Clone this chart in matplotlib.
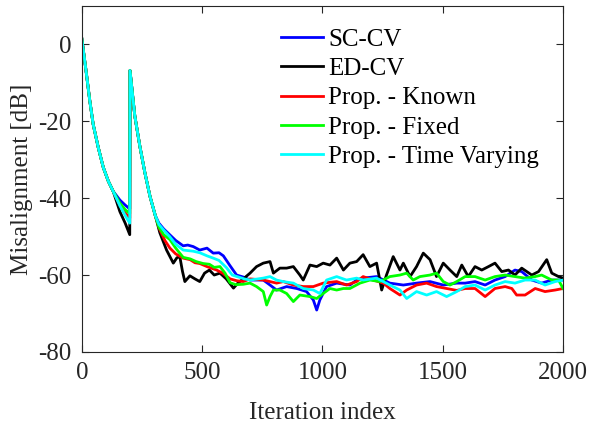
"""Misalignment vs iteration plot (MATLAB look)."""
import matplotlib
matplotlib.use("Agg")
import matplotlib.pyplot as plt

plt.rcParams["font.family"] = ["Liberation Serif", "DejaVu Serif"]
plt.rcParams["axes.unicode_minus"] = False
plt.rcParams["mathtext.fontset"] = "stix"

FONT_SIZE = 18

# shared start of every curve (first transient)
it_head = [0, 19, 33, 47, 68, 89, 110, 130]
db_head = [1.4, -7.7, -14.7, -20.8, -26.8, -32.0, -35.6, -38.2]
# restart at iteration 200
it_spike = [200, 220, 241, 262, 283, 305]
db_spike = [-6.8, -18.6, -26.5, -33.4, -39.5, -44.5]

# SC-CV
it_sc = [158, 180, 199, 320, 340, 365, 390, 421, 440, 463, 490, 520, 546, 570, 588, 615, 643, 670, 699,
         754, 782, 809, 851, 893, 934, 962, 976, 989, 1017, 1059, 1114, 1142, 1169, 1225, 1280, 1336,
         1391, 1447, 1502, 1558, 1593, 1634, 1676, 1717, 1759, 1800, 1828, 1870, 1911, 1953, 1981, 2000]
db_sc = [-40.5, -41.8, -42.8, -46.5, -48.0, -49.5, -51.0, -52.4, -52.2, -52.6, -53.5, -53.0, -54.3, -54.2,
         -55.0, -57.5, -60.0, -60.5, -61.3, -61.3, -62.6, -63.9, -63.0, -63.5, -64.3, -66.5, -69.1, -66.5,
         -63.0, -62.1, -62.6, -61.3, -60.8, -60.4, -62.1, -62.6, -62.1, -61.7, -62.6, -62.1, -62.1, -61.7,
         -62.6, -61.3, -60.4, -58.7, -59.1, -61.3, -62.1, -61.3, -61.3, -61.3]

# ED-CV
it_ed = [158, 180, 199, 324, 352, 380, 395, 407, 418, 428, 449, 470, 490, 510, 530, 550, 574, 600, 630,
         650, 671, 699, 726, 754, 782, 796, 823, 851, 879, 906, 920, 948, 976, 1003, 1031, 1059, 1087,
         1114, 1142, 1169, 1197, 1225, 1246, 1266, 1294, 1322, 1336, 1364, 1391, 1419, 1447, 1474, 1502,
         1530, 1558, 1579, 1606, 1634, 1662, 1690, 1717, 1745, 1773, 1800, 1828, 1870, 1898, 1932, 1953,
         1981, 2000]
db_ed = [-43.5, -46.5, -49.5, -49.0, -53.5, -56.9, -55.5, -55.2, -59.0, -61.7, -60.2, -61.0, -61.7, -59.5,
         -58.7, -60.0, -59.5, -61.0, -63.4, -62.0, -61.0, -59.5, -57.8, -56.9, -56.5, -59.5, -58.2, -58.2,
         -57.8, -60.0, -61.3, -57.4, -57.8, -56.9, -57.4, -55.6, -58.7, -56.9, -56.5, -54.7, -57.8, -56.9,
         -63.9, -60.0, -55.2, -58.7, -56.9, -60.4, -57.8, -54.3, -56.0, -60.4, -56.9, -58.7, -60.4, -57.4,
         -60.4, -57.8, -58.7, -57.8, -56.9, -59.1, -58.7, -60.0, -58.2, -60.0, -59.1, -56.0, -59.5, -60.4,
         -60.8]

# Prop. - Known
it_known = [158, 180, 199, 324, 345, 366, 390, 421, 450, 470, 490, 520, 560, 585, 616, 645, 671, 699,
            754, 809, 837, 879, 920, 962, 1003, 1059, 1100, 1142, 1169, 1211, 1253, 1280, 1322, 1350, 1391,
            1433, 1474, 1516, 1558, 1593, 1634, 1676, 1717, 1759, 1787, 1807, 1842, 1884, 1925, 1967, 2000]
db_known = [-41.8, -43.8, -45.2, -48.2, -51.0, -53.0, -54.5, -55.6, -56.0, -56.8, -57.0, -57.8, -58.7,
            -59.5, -61.0, -61.5, -61.7, -61.0, -61.3, -62.1, -61.7, -62.6, -63.0, -63.0, -62.1, -61.7,
            -62.6, -61.7, -60.4, -61.3, -62.1, -63.5, -65.2, -63.9, -62.6, -62.1, -63.0, -63.5, -64.0,
            -63.5, -63.5, -65.6, -63.5, -63.0, -63.5, -65.2, -65.2, -63.5, -64.3, -63.9, -63.5]

# Prop. - Fixed
it_fixed = [158, 180, 199, 320, 340, 366, 390, 421, 450, 475, 504, 530, 550, 574, 595, 616, 640, 671,
            699, 726, 754, 768, 782, 796, 823, 851, 879, 906, 948, 976, 1003, 1031, 1059, 1087, 1114, 1156,
            1197, 1239, 1280, 1322, 1350, 1377, 1405, 1447, 1474, 1502, 1530, 1558, 1593, 1634, 1676, 1717,
            1759, 1800, 1842, 1884, 1911, 1953, 1981, 2000]
db_fixed = [-41.3, -43.0, -44.0, -47.5, -49.5, -50.8, -53.0, -55.4, -55.8, -56.5, -57.0, -57.2, -58.0,
            -57.8, -59.5, -62.0, -62.5, -62.4, -62.1, -63.0, -64.3, -67.8, -65.6, -63.9, -63.9, -64.8,
            -66.9, -65.2, -65.6, -66.1, -64.8, -63.5, -63.9, -63.5, -63.5, -62.1, -61.3, -61.7, -60.4,
            -60.0, -59.5, -61.3, -60.4, -60.0, -59.5, -61.7, -62.6, -61.7, -60.4, -60.4, -61.3, -60.4,
            -60.0, -60.4, -60.8, -60.4, -60.0, -61.3, -61.3, -63.5]

# Prop. - Time Varying
it_tv = [158, 180, 199, 320, 340, 365, 390, 421, 463, 490, 520, 546, 570, 600, 625, 650, 675, 699, 754,
         782, 809, 837, 879, 920, 962, 989, 1017, 1059, 1100, 1142, 1169, 1225, 1280, 1322, 1350, 1391,
         1433, 1474, 1516, 1558, 1593, 1634, 1676, 1717, 1759, 1800, 1842, 1884, 1925, 1967, 2000]
db_tv = [-42.0, -44.5, -46.5, -46.8, -48.3, -50.0, -52.0, -53.5, -53.8, -54.2, -55.0, -55.6, -56.2, -58.0,
         -60.0, -60.5, -61.0, -61.3, -60.8, -60.4, -61.3, -61.7, -62.1, -63.5, -63.9, -64.8, -61.3, -60.4,
         -61.3, -60.8, -61.3, -60.8, -62.6, -63.9, -66.1, -64.3, -65.2, -64.3, -65.6, -64.3, -63.0, -62.6,
         -63.9, -62.6, -61.7, -62.1, -61.3, -61.3, -62.6, -61.7, -61.3]

SERIES = [
    ("SC-CV", it_sc, db_sc, (0, 0, 1)),
    ("ED-CV", it_ed, db_ed, (0, 0, 0)),
    ("Prop. - Known", it_known, db_known, (1, 0, 0)),
    ("Prop. - Fixed", it_fixed, db_fixed, (0, 1, 0)),
    ("Prop. - Time Varying", it_tv, db_tv, (0, 1, 1)),
]

x_ticks = [0, 500, 1000, 1500, 2000]
y_ticks = [-80, -60, -40, -20, 0]


def _full_curve(it_tail, db_tail):
    # head -> series-specific end of first transient -> restart -> series tail
    it = it_head + it_tail[:3] + it_spike + it_tail[3:]
    db = db_head + db_tail[:3] + db_spike + db_tail[3:]
    return it, db


fig = plt.figure(figsize=(5.89, 4.23), dpi=100)
ax = fig.add_axes([0.139, 0.168, 0.817, 0.818])
for label, it_tail, db_tail, color in SERIES:
    it, db = _full_curve(it_tail, db_tail)
    ax.plot(it, db, color=color, linewidth=2, label=label)

ax.set_xlim(0, 2000)
ax.set_ylim(-80, 10)
ax.set_xticks(x_ticks)
ax.set_yticks(y_ticks)
ax.tick_params(direction="in", top=True, right=True, length=5, width=0.8,
               labelsize=FONT_SIZE, colors="#262626", pad=7.5)
for side in ax.spines.values():
    side.set_color("#262626")
    side.set_linewidth(0.8)
ax.set_xlabel("Iteration index", fontsize=FONT_SIZE, color="#262626", labelpad=13)
ax.set_ylabel("Misalignment [dB]", fontsize=FONT_SIZE, color="#262626", labelpad=4)

ax.legend(loc="upper left", bbox_to_anchor=(0.477, 0.933), bbox_transform=fig.transFigure,
          frameon=False, fontsize=FONT_SIZE, handlelength=1.7, handletextpad=0.2,
          labelspacing=0.27, borderpad=0, borderaxespad=0)

fig.savefig("out.png", dpi=100)
plt.close(fig)
